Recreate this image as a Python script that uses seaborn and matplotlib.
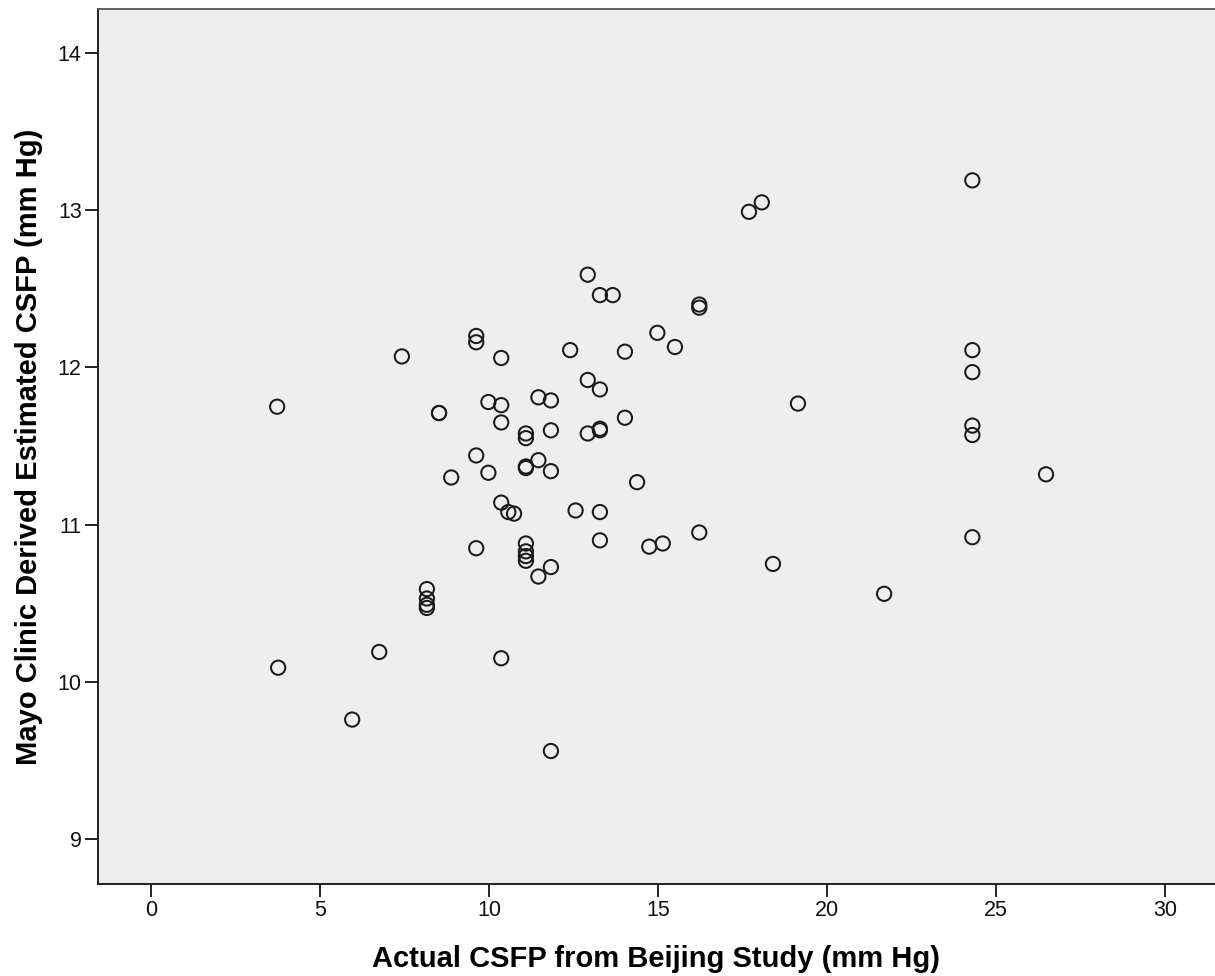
import matplotlib
matplotlib.use('Agg')
import matplotlib.pyplot as plt
import seaborn as sns
import pandas as pd

# Actual CSFP (Beijing study) vs Mayo Clinic estimated CSFP, both mm Hg
actual_csfp = [
    3.73, 3.76, 5.95, 6.75, 7.42, 8.52, 8.52, 8.88,
    8.16, 8.16, 8.16, 8.16,
    9.62, 9.62, 9.62, 9.62, 9.98, 9.98,
    10.36, 10.36, 10.36, 10.36, 10.57, 10.74, 10.36,
    11.09, 11.09, 11.09, 11.09, 11.46,
    11.09, 11.09, 11.09, 11.09,
    11.46, 11.83, 11.83, 11.83, 11.46, 11.83, 11.83,
    12.40, 12.56, 12.92, 12.92, 12.92, 13.28, 13.66, 13.28, 13.28, 13.28,
    13.28, 13.28, 14.02, 14.02, 14.38, 14.98, 15.50, 14.74, 15.14,
    16.22, 16.22, 16.22, 17.69, 18.07, 18.40, 19.14, 21.69,
    24.30, 24.30, 24.30, 24.30, 24.30, 24.30, 26.48,
]
mayo_estimated_csfp = [
    11.75, 10.09, 9.76, 10.19, 12.07, 11.71, 11.71, 11.30,
    10.59, 10.53, 10.49, 10.47,
    12.20, 12.16, 11.44, 10.85, 11.78, 11.33,
    12.06, 11.76, 11.65, 11.14, 11.08, 11.07, 10.15,
    11.58, 11.55, 11.36, 11.37, 11.41,
    10.88, 10.83, 10.80, 10.77,
    11.81, 11.79, 11.60, 11.34, 10.67, 10.73, 9.56,
    12.11, 11.09, 12.59, 11.92, 11.58, 12.46, 12.46, 11.86, 11.60,
    11.61, 11.08, 10.90, 12.10, 11.68, 11.27, 12.22, 12.13, 10.86, 10.88,
    12.40, 12.38, 10.95, 12.99, 13.05, 10.75, 11.77, 10.56,
    13.19, 12.11, 11.97, 11.63, 11.57, 10.92, 11.32,
]

df = pd.DataFrame({'actual': actual_csfp, 'mayo': mayo_estimated_csfp})

sns.set_style('white')
plt.rcParams['font.family'] = ['Liberation Sans', 'DejaVu Sans']

fig = plt.figure(figsize=(12.15, 9.76), dpi=100)
ax = fig.add_axes([97.7 / 1215, 92 / 976, 1 - 97.7 / 1215, 875 / 976])
ax.set_facecolor('#eeeeee')

sns.scatterplot(data=df, x='actual', y='mayo', ax=ax,
                marker='o', s=105, facecolor='none',
                edgecolor='#1a1a1a', linewidth=1.45)

ax.set_xlim(-1.58, 31.48)
ax.set_ylim(8.714, 14.28)
ax.set_xticks([0, 5, 10, 15, 20, 25, 30])
ax.set_yticks([9, 10, 11, 12, 13, 14])

ax.tick_params(axis='both', direction='out', length=9.5, width=1.4,
               color='#222222', labelsize=15.5, pad=2, labelcolor='#111111',
               bottom=True, left=True)

for side in ['left', 'bottom']:
    ax.spines[side].set_color('#222222')
    ax.spines[side].set_linewidth(1.4)
ax.spines['top'].set_color('#555555')
ax.spines['top'].set_linewidth(1.3)
ax.spines['right'].set_visible(False)

ax.set_xlabel('Actual CSFP from Beijing Study (mm Hg)', fontsize=21,
              fontweight='bold', color='black')
ax.set_ylabel('Mayo Clinic Derived Estimated CSFP (mm Hg)', fontsize=21,
              fontweight='bold', color='black')
ax.xaxis.set_label_coords(0.5, -0.070)
ax.yaxis.set_label_coords(-0.049, 0.5)

fig.savefig('out.png', dpi=100)
plt.close(fig)
